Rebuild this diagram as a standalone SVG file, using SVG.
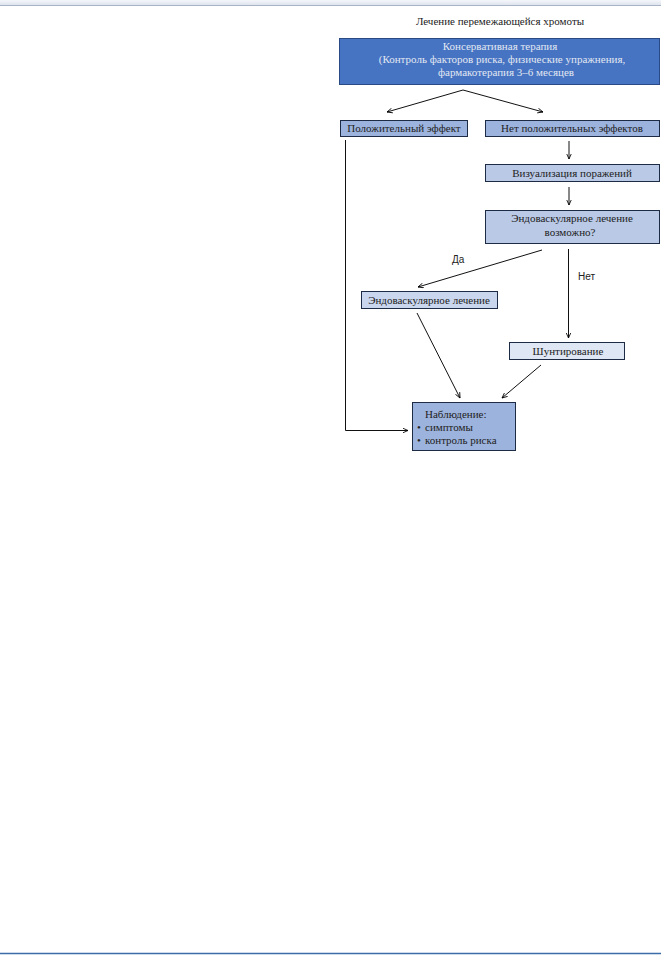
<svg xmlns="http://www.w3.org/2000/svg" width="661" height="955" viewBox="0 0 661 955">
<defs>
<linearGradient id="topband" x1="0" y1="0" x2="0" y2="1">
<stop offset="0" stop-color="#f4f6fa"/>
<stop offset="1" stop-color="#dfe4ee"/>
</linearGradient>
<marker id="ah" viewBox="0 0 10 10" refX="9" refY="5" markerWidth="6" markerHeight="6" orient="auto" markerUnits="userSpaceOnUse">
<path d="M0,1 L9,5 L0,9" fill="none" stroke="#000" stroke-width="1.4"/>
</marker>
</defs>
<style>
text{font-family:"Liberation Serif","DejaVu Serif",serif;font-size:11px;fill:#222}
.lbl{font-family:"Liberation Sans","DejaVu Sans",sans-serif;font-size:10px;fill:#222}
.b1{fill:#4673c2;stroke:#2a4a86;stroke-width:1}
.b2{fill:#9cb3dd;stroke:#1e2b45;stroke-width:1}
.b3{fill:#b9c9e6;stroke:#1e2b45;stroke-width:1}
.b4{fill:#c9d6ee;stroke:#1e2b45;stroke-width:1}
.b5{fill:#dfe7f4;stroke:#1e2b45;stroke-width:1}
.edge{stroke:#111;stroke-width:1;fill:none}
.w{fill:#e2e8f2}
</style>
<rect x="0" y="0" width="661" height="5" fill="url(#topband)"/>
<line x1="0" y1="5.5" x2="661" y2="5.5" stroke="#a9b3c6" stroke-width="1.2"/>
<line x1="0" y1="953.5" x2="661" y2="953.5" stroke="#3b6ea6" stroke-width="1.5"/>

<text x="500" y="25" text-anchor="middle" font-size="12">Лечение перемежающейся хромоты</text>

<g id="conservative">
<rect class="b1" x="339.5" y="38.5" width="320" height="46"/>
<text class="w" x="500" y="50" text-anchor="middle">Консервативная терапия</text>
<text class="w" x="502" y="63" text-anchor="middle">(Контроль факторов риска, физические упражнения,</text>
<text class="w" x="506" y="76" text-anchor="middle">фармакотерапия 3–6 месяцев</text>
</g>

<g id="positive">
<rect class="b2" x="340.5" y="120.5" width="127" height="16"/>
<text x="404" y="132" text-anchor="middle">Положительный эффект</text>
</g>

<g id="negative">
<rect class="b2" x="485.5" y="120.5" width="174" height="16"/>
<text x="572" y="132" text-anchor="middle">Нет положительных эффектов</text>
</g>

<g id="visual">
<rect class="b3" x="485.5" y="164.5" width="174" height="17"/>
<text x="572" y="177" text-anchor="middle">Визуализация поражений</text>
</g>

<g id="possible">
<rect class="b3" x="485.5" y="210.5" width="174" height="33"/>
<text x="572" y="222" text-anchor="middle">Эндоваскулярное лечение</text>
<text x="570" y="236" text-anchor="middle">возможно?</text>
</g>

<g id="endovascular">
<rect class="b4" x="361.5" y="291.5" width="136" height="17"/>
<text x="429" y="304" text-anchor="middle">Эндоваскулярное лечение</text>
</g>

<g id="shunt">
<rect class="b5" x="509.5" y="342.5" width="115" height="17"/>
<text x="568" y="355" text-anchor="middle">Шунтирование</text>
</g>

<g id="observation">
<rect class="b2" x="412.5" y="402.5" width="103" height="48"/>
<text x="425" y="418">Наблюдение:</text>
<text x="417" y="431">•<tspan x="425">симптомы</tspan></text>
<text x="417" y="444">•<tspan x="425">контроль риска</tspan></text>
</g>

<g id="connectors">
<line class="edge" x1="463" y1="90" x2="387" y2="112" marker-end="url(#ah)"/>
<line class="edge" x1="463" y1="90" x2="543" y2="112" marker-end="url(#ah)"/>
<line class="edge" x1="569" y1="141" x2="569" y2="159" marker-end="url(#ah)"/>
<line class="edge" x1="569" y1="187" x2="569" y2="205" marker-end="url(#ah)"/>
<line class="edge" x1="542" y1="250" x2="418" y2="287" marker-end="url(#ah)"/>
<line class="edge" x1="568.5" y1="249" x2="568.5" y2="338" marker-end="url(#ah)"/>
<line class="edge" x1="417" y1="313" x2="460" y2="398" marker-end="url(#ah)"/>
<line class="edge" x1="541" y1="365" x2="502" y2="398" marker-end="url(#ah)"/>
<polyline class="edge" points="345.5,140 345.5,430.5 408,430.5" marker-end="url(#ah)"/>
<text class="lbl" x="452" y="263">Да</text>
<text class="lbl" x="578" y="280">Нет</text>
</g>
</svg>
